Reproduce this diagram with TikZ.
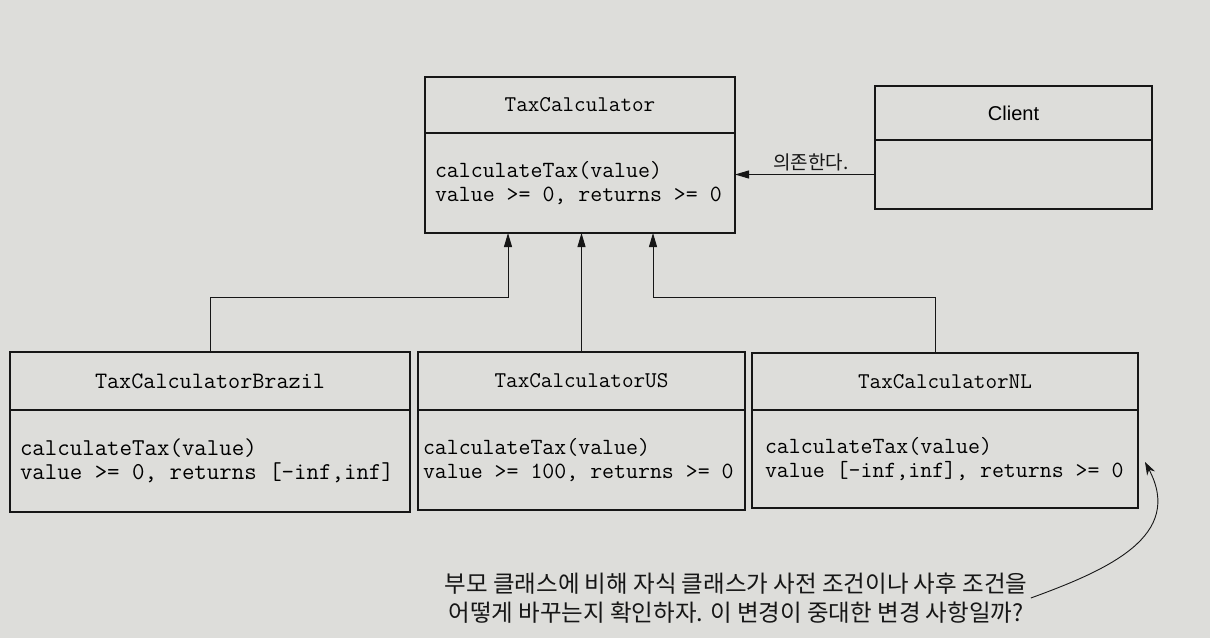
\documentclass[tikz,border=0pt]{standalone}
\usepackage{fontspec}
\setsansfont{Liberation Sans}
\newfontfamily\krfont{Noto Sans CJK KR}
\usetikzlibrary{positioning,arrows.meta}
\definecolor{paper}{RGB}{221,221,218}
\definecolor{ink}{RGB}{22,22,22}
\newcommand{\codefont}[1]{\ttfamily\fontsize{#1}{24}\selectfont}
\tikzset{
  classhead/.style={draw=ink, line width=1.2pt, inner sep=0pt, outer sep=0pt,
    font=\codefont{22.5}},
  classbody/.style={draw=ink, line width=1.2pt, inner xsep=10pt, inner ysep=0pt, outer sep=0pt,
    minimum width=#1, text width=#1-20pt, align=flush left, font=\codefont{23.2}},
  classbody/.default=100pt,
  inherits/.style={draw=ink, line width=1pt, -{Triangle[length=14pt,width=8pt]}},
  depends/.style={draw=ink, line width=1pt, -{Triangle[length=14pt,width=8pt]}},
  remark/.style={draw=ink, line width=0.9pt, -{Stealth[length=13pt,width=9pt]}},
}

\begin{document}
\begin{tikzpicture}[x=1pt,y=-1pt]
  \useasboundingbox[fill=paper] (0,0) rectangle (1210,638);
  % parent and client
  \node[classhead, minimum width=310pt, minimum height=56pt] (tch) at (580,105) {TaxCalculator};
  \node[classbody=310pt, minimum height=100pt, below=0pt of tch] (tcb)
    {calculateTax(value)\\value >= 0, returns >= 0};
  \node[classhead, minimum width=277pt, minimum height=54pt, font=\sffamily\fontsize{20}{24}\selectfont]
    (clh) at (1013.5,113) {Client};
  \node[classbody=277pt, minimum height=69pt, below=0pt of clh] (clb) {};
  % children
  \node[classhead, minimum width=400pt, minimum height=58pt, font=\codefont{23.5}] (brh) at (210,381) {TaxCalculatorBrazil};
  \node[classbody=400pt, minimum height=102pt, font=\codefont{24.2}, below=0pt of brh] (brb)
    {calculateTax(value)\\value >= 0, returns [-inf,inf]};
  \node[classhead, minimum width=327pt, minimum height=58pt] (ush) at (581.5,381) {TaxCalculatorUS};
  \node[classbody=327pt, inner xsep=5pt, text width=317pt, minimum height=100pt, below=0pt of ush] (usb)
    {calculateTax(value)\\value >= 100, returns >= 0};
  \node[classhead, minimum width=386pt, minimum height=57pt] (nlh) at (945,381.5) {TaxCalculatorNL};
  \node[classbody=386pt, inner xsep=13pt, text width=360pt, minimum height=98pt, below=0pt of nlh] (nlb)
    {calculateTax(value)\\value [-inf,inf], returns >= 0};
  % note
  \node[font=\krfont\fontsize{23.5}{29}\selectfont, align=center, text=ink] (note) at (736,598)
    {부모 클래스에 비해 자식 클래스가 사전 조건이나 사후 조건을\\어떻게 바꾸는지 확인하자. 이 변경이 중대한 변경 사항일까?};
  \coordinate (jn) at (0,297);
  \coordinate (tip) at (1145,462);

  \path (clb.west) edge[depends] node[above, xshift=6pt, font=\krfont\fontsize{19}{22}\selectfont, text=ink] {의존한다.}
    (tcb.east |- clb.west);
  \draw[inherits] (brh.north) -- (brh.north |- jn) -| ([xshift=-72pt]tcb.south);
  \draw[inherits] (ush.north) -- (ush.north |- tcb.south);
  \draw[inherits] ([xshift=-10pt]nlh.north) -- ([xshift=-10pt]nlh.north |- jn) -| ([xshift=73pt]tcb.south);
  \draw[remark] (note.east) to[out=20,in=-62,looseness=1.2] (tip);
\end{tikzpicture}
\end{document}
